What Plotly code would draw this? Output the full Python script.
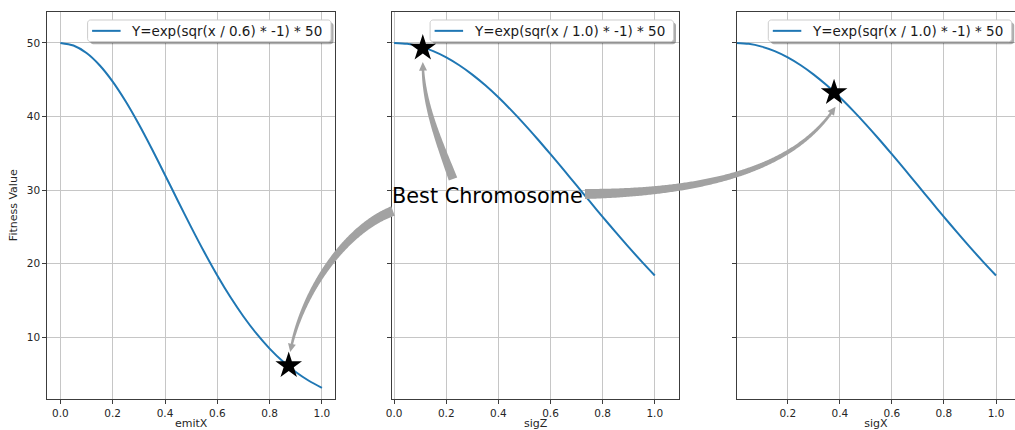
import numpy as np
import plotly.graph_objects as go

# ---- data ---------------------------------------------------------------
X_SAMPLES = [0.00, 0.05, 0.10, 0.15, 0.20, 0.25, 0.30, 0.35, 0.40, 0.45, 0.50,
             0.55, 0.60, 0.65, 0.70, 0.75, 0.80, 0.85, 0.90, 0.95, 1.00]
EMITX_FITNESS = [50.00, 49.65, 48.63, 46.97, 44.74, 42.03, 38.94, 35.58, 32.06, 28.49, 24.97,
                 21.58, 18.39, 15.46, 12.82, 10.48, 8.45, 6.72, 5.27, 4.08, 3.11]
SIGZ_FITNESS = [50.00, 49.88, 49.50, 48.89, 48.04, 46.97, 45.70, 44.24, 42.61, 40.83, 38.94,
                36.95, 34.88, 32.77, 30.63, 28.49, 26.36, 24.28, 22.24, 20.28, 18.39]
SIGX_FITNESS = [50.00, 49.88, 49.50, 48.89, 48.04, 46.97, 45.70, 44.24, 42.61, 40.83, 38.94,
                36.95, 34.88, 32.77, 30.63, 28.49, 26.36, 24.28, 22.24, 20.28, 18.39]

BEST_X = [0.873, 0.110, 0.378]
BEST_Y = [6.14, 49.3, 43.25]

PARAM_NAMES = ["emitX", "sigZ", "sigX"]
Y_TITLE = "Fitness Value"
LEGEND_LABELS = ["Y=exp(sqr(x / 0.6) * -1) * 50",
                 "Y=exp(sqr(x / 1.0) * -1) * 50",
                 "Y=exp(sqr(x / 1.0) * -1) * 50"]
X_TICKS = [0.0, 0.2, 0.4, 0.6, 0.8, 1.0]
X_TICK_TEXT = ["0.0", "0.2", "0.4", "0.6", "0.8", "1.0"]
Y_TICKS = [10, 20, 30, 40, 50]
ANNOTATION_TEXT = "Best Chromosome"

# ---- layout constants (pixels) -----------------------------------------
W, H = 1015, 430
PANEL_LEFT = [47.3, 392.3, 736.7]
PANEL_RIGHT = [335.0, 679.0, 1015.0]
PANEL_TOP, PANEL_BOTTOM = 12.3, 399.0
X_RANGES = [(-0.05, 1.05), (-0.007, 1.093), (0.004, 1.073)]
Y_RANGE = (1.6, 54.17)
LEGEND_RIGHT = [331.0, 673.5, 1011.7]
LEGEND_TOP, LEGEND_BOTTOM, LEGEND_WIDTH = 20.0, 41.7, 243.4

FONT = "DejaVu Sans"
BLUE = "#1f77b4"
GRID = "#c6c6c6"
SPINE = "#3c3c3c"
ARROW_GREY = "#a2a2a2"
TEXT = "#262626"


def to_paper(px, py):
    return px / W, 1 - py / H


def data_to_px(i, x, y):
    x0, x1 = X_RANGES[i]
    y0, y1 = Y_RANGE
    px = PANEL_LEFT[i] + (x - x0) / (x1 - x0) * (PANEL_RIGHT[i] - PANEL_LEFT[i])
    py = PANEL_TOP + (y1 - y) / (y1 - y0) * (PANEL_BOTTOM - PANEL_TOP)
    return np.array([px, py])


fig = go.Figure()
series = [EMITX_FITNESS, SIGZ_FITNESS, SIGX_FITNESS]
for i in range(3):
    sfx = "" if i == 0 else str(i + 1)
    fig.add_trace(go.Scatter(
        x=X_SAMPLES, y=series[i], mode="lines",
        line=dict(color=BLUE, width=2, shape="spline", smoothing=0.8),
        name=LEGEND_LABELS[i], showlegend=False,
        xaxis="x" + sfx, yaxis="y" + sfx, cliponaxis=True,
    ))
    fig.add_trace(go.Scatter(
        x=[BEST_X[i]], y=[BEST_Y[i]], mode="markers",
        marker=dict(symbol="star", size=20, color="black", line=dict(width=0)),
        showlegend=False, xaxis="x" + sfx, yaxis="y" + sfx,
    ))

axis_font = dict(family=FONT, size=10.5, color=TEXT)
layout = dict(
    width=W, height=H,
    margin=dict(l=0, r=0, t=0, b=0),
    paper_bgcolor="white", plot_bgcolor="white",
    font=dict(family=FONT), showlegend=False,
)
ydom = [1 - PANEL_BOTTOM / H, 1 - PANEL_TOP / H]
for i in range(3):
    sfx = "" if i == 0 else str(i + 1)
    layout["xaxis" + sfx] = dict(
        domain=[PANEL_LEFT[i] / W, min(PANEL_RIGHT[i] / W, 1.0)],
        range=list(X_RANGES[i]), anchor="y" + sfx, automargin=False,
        tickmode="array", tickvals=X_TICKS, ticktext=X_TICK_TEXT,
        ticks="outside", ticklen=4, tickwidth=1, tickcolor=SPINE,
        showline=True, linecolor=SPINE, linewidth=1, mirror=True,
        showgrid=True, gridcolor=GRID, gridwidth=1, zeroline=False,
        tickfont=axis_font,
        title=dict(text=PARAM_NAMES[i], font=dict(family=FONT, size=11, color=TEXT)),
    )
    layout["yaxis" + sfx] = dict(
        domain=ydom, range=list(Y_RANGE), anchor="x" + sfx, automargin=False,
        tickmode="array", tickvals=Y_TICKS,
        ticks="outside", ticklen=4, tickwidth=1, tickcolor=SPINE,
        showline=True, linecolor=SPINE, linewidth=1, mirror=(i < 2),
        showgrid=True, gridcolor=GRID, gridwidth=1, zeroline=False,
        showticklabels=(i == 0), tickfont=axis_font,
    )
fig.update_layout(**layout)


# ---- curved, tapering arrows from the label to each best point ----------
def cubic(p0, c1, c2, p3, t):
    t = t[:, None]
    return ((1 - t) ** 3) * p0 + 3 * ((1 - t) ** 2) * t * c1 + 3 * (1 - t) * t ** 2 * c2 + t ** 3 * p3


def tapered_arrow(p0, c1, c2, p3, w_tail, w_neck, head_w, head_len):
    p0, c1, c2, p3 = (np.asarray(p, float) for p in (p0, c1, c2, p3))
    t = np.linspace(0, 1, 240)
    pts = cubic(p0, c1, c2, p3, t)
    seg = np.hypot(*np.diff(pts, axis=0).T)
    s = np.concatenate([[0.0], np.cumsum(seg)])
    keep = s <= s[-1] - head_len
    tang = np.gradient(pts, axis=0)
    tang /= np.linalg.norm(tang, axis=1)[:, None]
    body, sb, tb = pts[keep], s[keep], tang[keep]
    nrm = np.stack([-tb[:, 1], tb[:, 0]], axis=1)
    w = w_tail + (w_neck - w_tail) * sb / sb[-1]
    left = body + nrm * (w[:, None] / 2)
    right = body - nrm * (w[:, None] / 2)
    base, nb = body[-1], nrm[-1]
    poly = np.vstack([left, base + nb * head_w / 2, p3, base - nb * head_w / 2, right[::-1]])
    coords = [to_paper(x, y) for x, y in poly]
    return "M " + " L ".join(f"{x:.5f},{y:.5f}" for x, y in coords) + " Z"


def rounded_rect(x0, y0, x1, y1, r):
    pts = []
    for cx, cy, a0 in [(x1 - r, y0 + r, -90), (x1 - r, y1 - r, 0),
                       (x0 + r, y1 - r, 90), (x0 + r, y0 + r, 180)]:
        for a in np.radians(np.linspace(a0, a0 + 90, 7)):
            pts.append((cx + r * np.cos(a), cy + r * np.sin(a)))
    coords = [to_paper(x, y) for x, y in pts]
    return "M " + " L ".join(f"{x:.5f},{y:.5f}" for x, y in coords) + " Z"


shapes = []

LABEL_LEFT, LABEL_MID = 390.0, 196.0
label_anchor = np.array([393.0, 197.0])
# (tail offset from label, tail control offset, tip offset from star, tip control offset, tail width)
arrow_specs = [
    ((0, 14), (-48, 18), (1.5, -13.5), (11, -59), 10),
    ((60, -18), (-15, -40), (0, 14), (0, 40), 9),
    ((192, -3), (140, -2), (1.5, 14), (-36, 55), 10),
]
for i, (toff, tc, hoff, hc, wt) in enumerate(arrow_specs):
    tail = label_anchor + np.array(toff)
    tip = data_to_px(i, BEST_X[i], BEST_Y[i]) + np.array(hoff)
    path = tapered_arrow(tail, tail + np.array(tc), tip + np.array(hc), tip,
                         wt, 2.5, 8, 8)
    shapes.append(dict(type="path", path=path, xref="paper", yref="paper",
                       fillcolor=ARROW_GREY, line=dict(width=0), layer="above"))

# legend boxes with a drop shadow, one per panel
annotations = []
for i in range(3):
    right = LEGEND_RIGHT[i]
    left = right - LEGEND_WIDTH
    mid = (LEGEND_TOP + LEGEND_BOTTOM) / 2
    shapes.append(dict(type="path", xref="paper", yref="paper", layer="above",
                       path=rounded_rect(left + 2.5, LEGEND_TOP + 2.5, right + 2.5, LEGEND_BOTTOM + 2.5, 3),
                       fillcolor="rgba(0,0,0,0.32)", line=dict(width=0)))
    shapes.append(dict(type="path", xref="paper", yref="paper", layer="above",
                       path=rounded_rect(left, LEGEND_TOP, right, LEGEND_BOTTOM, 3),
                       fillcolor="white", line=dict(color="#cccccc", width=1)))
    lx0, ly = to_paper(left + 4.5, mid)
    lx1, _ = to_paper(left + 33, mid)
    shapes.append(dict(type="line", xref="paper", yref="paper", layer="above",
                       x0=lx0, x1=lx1, y0=ly, y1=ly, line=dict(color=BLUE, width=2)))
    tx, ty = to_paper(left + 41.5, mid)
    annotations.append(dict(x=tx, y=ty, xref="paper", yref="paper", xanchor="left",
                            yanchor="middle", showarrow=False, text=LEGEND_LABELS[i],
                            font=dict(family=FONT, size=13.5, color="#1a1a1a")))

# y-axis title of the first panel
yt_x, yt_y = to_paper(13.5, (PANEL_TOP + PANEL_BOTTOM) / 2)
annotations.append(dict(x=yt_x, y=yt_y, xref="paper", yref="paper", xanchor="center",
                        yanchor="middle", showarrow=False, textangle=-90, text=Y_TITLE,
                        font=dict(family=FONT, size=11, color=TEXT)))

ax_, ay_ = to_paper(LABEL_LEFT, LABEL_MID)
annotations.append(dict(
    x=ax_, y=ay_, xref="paper", yref="paper",
    xanchor="left", yanchor="middle", showarrow=False,
    text=ANNOTATION_TEXT, font=dict(family=FONT, size=20.8, color="black"),
))
fig.update_layout(shapes=shapes, annotations=annotations)

fig.write_html("out.html")
